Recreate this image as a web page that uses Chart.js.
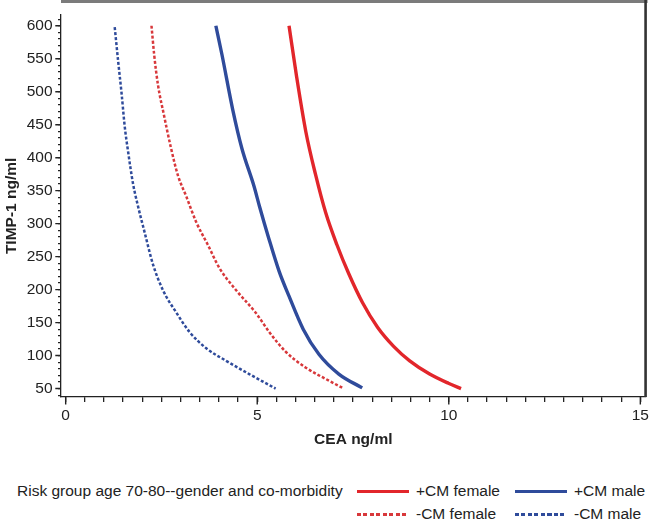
<!DOCTYPE html>
<html>
<head>
<meta charset="utf-8">
<script src="https://cdn.jsdelivr.net/npm/chart.js@4"></script>
<style>
    body { margin: 0; background: #fff; }
    #wrap { position: relative; width: 653px; height: 519px; font-family: "Liberation Sans", Arial, sans-serif; color: #222; }
    #chart { position: absolute; left: 0; top: 0; }
    .lg { position: absolute; font-size: 15.5px; line-height: 18px; white-space: nowrap; }
    .sample { position: absolute; width: 52px; height: 3px; }
    .solid-red { background: #e2262b; }
    .solid-blue { background: #2f4b9b; }
    .dash-red { height: 2.5px; background: repeating-linear-gradient(90deg, #d8383b 0 4px, transparent 4px 6.5px); }
    .dash-blue { height: 2.5px; background: repeating-linear-gradient(90deg, #2f4b9b 0 4px, transparent 4px 6.5px); }
</style>
</head>
<body>
<div id="wrap">
    <canvas id="chart" width="653" height="460"></canvas>
    <div class="lg" style="left:17px; top:482px;">Risk group age 70-80--gender and co-morbidity</div>
    <div class="sample solid-red" style="left:357px; top:490px;"></div>
    <div class="lg" style="left:416px; top:482px;">+CM female</div>
    <div class="sample solid-blue" style="left:515px; top:490px;"></div>
    <div class="lg" style="left:574px; top:482px;">+CM male</div>
    <div class="sample dash-red" style="left:357px; top:513px;"></div>
    <div class="lg" style="left:416px; top:505px;">-CM female</div>
    <div class="sample dash-blue" style="left:515px; top:513px;"></div>
    <div class="lg" style="left:574px; top:505px;">-CM male</div>
</div>
<script>
// tick labels
const ceaTicks = [0, 5, 10, 15];
const timpTicks = [50, 100, 150, 200, 250, 300, 350, 400, 450, 500, 550, 600];

// +CM female (solid red)
const cmFemaleCEA = [5.83, 6.03, 6.27, 6.52, 6.79, 7.08, 7.39, 7.75, 8.14, 8.56, 8.98, 9.50, 9.99, 10.32];
const cmFemaleTIMP = [600, 522, 439, 375, 316, 268, 224, 180, 143, 114, 92, 72, 58, 50];

// +CM male (solid blue)
const cmMaleCEA = [3.92, 4.08, 4.36, 4.60, 4.92, 5.06, 5.30, 5.57, 5.83, 6.20, 6.61, 7.13, 7.74];
const cmMaleTIMP = [600, 556, 473, 414, 356, 326, 278, 228, 190, 140, 102, 72, 51];

// -CM female (dashed red)
const noCmFemaleCEA = [2.24, 2.31, 2.41, 2.56, 2.74, 2.93, 3.15, 3.41, 3.71, 4.01, 4.45, 4.96, 5.31, 5.74, 6.26, 6.87, 7.26];
const noCmFemaleTIMP = [600, 556, 510, 466, 417, 373, 341, 302, 268, 233, 199, 165, 136, 106, 82, 62, 50];

// -CM male (dashed blue)
const noCmMaleCEA = [1.28, 1.37, 1.46, 1.54, 1.63, 1.76, 1.89, 2.06, 2.28, 2.54, 2.89, 3.23, 3.67, 4.19, 4.79, 5.48];
const noCmMaleTIMP = [598, 546, 497, 448, 409, 360, 326, 287, 238, 199, 165, 136, 111, 92, 72, 50];

const FONT = "'Liberation Sans', Arial, sans-serif";

function toPoints(xs, ys) {
    return xs.map((x, i) => ({ x: x, y: ys[i] }));
}

function makeSeries(label, xs, ys, color, width, dash) {
    return {
        label: label,
        data: toPoints(xs, ys),
        borderColor: color,
        borderWidth: width,
        borderDash: dash,
        pointRadius: 0,
        cubicInterpolationMode: 'monotone',
        fill: false
    };
}

// frame pieces and the longer marks on labelled ticks
const framePlugin = {
    id: 'frame',
    afterDraw(chart) {
        const { ctx, chartArea: a, scales } = chart;
        ctx.save();
        ctx.fillStyle = '#7b7b7b';
        ctx.fillRect(a.left, 0, a.right - a.left + 2, 3);
        ctx.strokeStyle = '#333';
        ctx.lineWidth = 2.6;
        ctx.beginPath();
        ctx.moveTo(a.right, 0);
        ctx.lineTo(a.right, a.bottom);
        ctx.stroke();

        ctx.strokeStyle = '#222';
        ctx.lineWidth = 1.4;
        ctx.beginPath();
        ceaTicks.forEach(v => {
            const px = scales.x.getPixelForValue(v);
            ctx.moveTo(px, a.bottom);
            ctx.lineTo(px, a.bottom + 7.5);
        });
        timpTicks.forEach(v => {
            const py = scales.y.getPixelForValue(v);
            ctx.moveTo(a.left, py);
            ctx.lineTo(a.left - 5.7, py);
        });
        ctx.stroke();
        ctx.restore();
    }
};

new Chart(document.getElementById('chart'), {
    type: 'line',
    data: {
        datasets: [
            makeSeries('+CM female', cmFemaleCEA, cmFemaleTIMP, '#e2262b', 3.4, []),
            makeSeries('+CM male', cmMaleCEA, cmMaleTIMP, '#2f4b9b', 3.4, []),
            makeSeries('-CM female', noCmFemaleCEA, noCmFemaleTIMP, '#d8383b', 2.5, [3, 2]),
            makeSeries('-CM male', noCmMaleCEA, noCmMaleTIMP, '#2f4b9b', 2.5, [3, 2])
        ]
    },
    options: {
        responsive: false,
        animation: false,
        layout: { padding: { top: 2, right: 5, left: 0, bottom: 0 } },
        plugins: {
            legend: { display: false },
            tooltip: { enabled: false }
        },
        scales: {
            x: {
                type: 'linear',
                min: -0.122,
                max: 15.137,
                afterFit: s => { s.height = 63; },
                border: { display: true, color: '#222', width: 1.3 },
                grid: { drawOnChartArea: false, color: '#222', tickLength: 5, lineWidth: 1.3 },
                ticks: {
                    stepSize: 0.5,
                    includeBounds: false,
                    autoSkip: false,
                    maxRotation: 0,
                    padding: 4,
                    color: '#222',
                    font: { family: FONT, size: 15.5 },
                    callback: v => ceaTicks.includes(v) ? String(v) : ''
                },
                title: {
                    display: true,
                    text: 'CEA ng/ml',
                    color: '#222',
                    font: { family: FONT, size: 15.5, weight: 'bold' },
                    padding: { top: 0, bottom: 10.7 }
                }
            },
            y: {
                type: 'linear',
                min: 37.2,
                max: 616.6,
                afterFit: s => { s.width = 61; },
                border: { display: true, color: '#222', width: 1.3 },
                grid: { drawOnChartArea: false, color: '#222', tickLength: 3, lineWidth: 1.3 },
                ticks: {
                    stepSize: 10,
                    includeBounds: false,
                    autoSkip: false,
                    padding: 5.5,
                    color: '#222',
                    font: { family: FONT, size: 15.5 },
                    callback: v => timpTicks.includes(v) ? String(v) : ''
                },
                title: {
                    display: true,
                    text: 'TIMP-1 ng/ml',
                    color: '#222',
                    font: { family: FONT, size: 15.5, weight: 'bold' },
                    padding: { top: 2.7, bottom: 0 }
                }
            }
        }
    },
    plugins: [framePlugin]
});
</script>
</body>
</html>
